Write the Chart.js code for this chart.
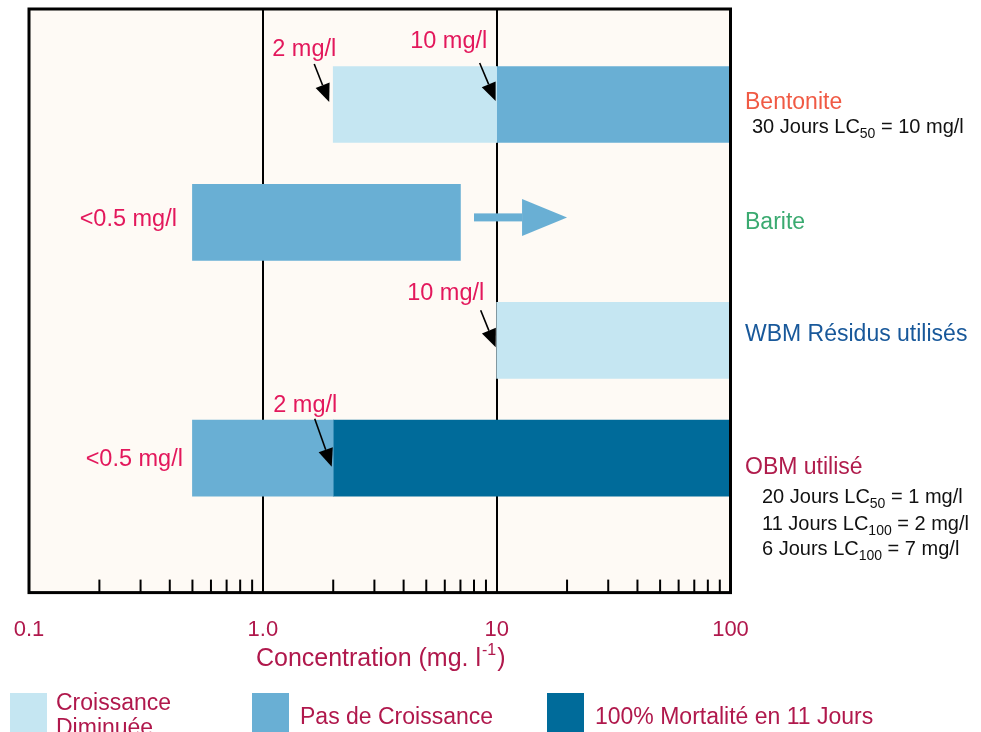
<!DOCTYPE html>
<html>
<head>
<meta charset="utf-8">
<script src="https://cdn.jsdelivr.net/npm/chart.js@4/dist/chart.umd.min.js"></script>
<style>
  html, body { margin: 0; padding: 0; background: #fff; }
  #wrap { width: 981px; height: 732px; position: relative; }
</style>
</head>
<body>
<div id="wrap"><canvas id="chart" width="981" height="732"></canvas></div>
<script>
// rows, top to bottom
const rows = ['Bentonite', 'Barite', 'WBM Résidus utilisés', 'OBM utilisé'];
const rowIndex = [1, 2, 3, 4];

// floating bars [from, to] in mg/l, one per row (null = no bar)
const reducedGrowth = [[2, 10], null, [10, 100], null];
const noGrowth      = [[10, 100], [0.5, 7], null, [0.5, 2]];
const mortality     = [null, null, null, [2, 100]];

const seriesNames = ['Croissance Diminuée', 'Pas de Croissance', '100% Mortalité en 11 Jours'];

// barite: no growth continues past 7 mg/l
const bariteArrow = [8, 20];

// callouts with arrows
const calloutRows   = [1, 1, 3, 4];
const calloutValues = [2, 10, 10, 2];
const calloutTexts  = ['2 mg/l', '10 mg/l', '10 mg/l', '2 mg/l'];

// lower limit labels
const lowRows   = [2, 4];
const lowValues = [0.5, 0.5];
const lowTexts  = ['<0.5 mg/l', '<0.5 mg/l'];

// LC notes: [text, subscript, rest]
const lcNotes = [
  [['30 Jours LC', '50', ' = 10 mg/l']],
  [],
  [],
  [['20 Jours LC', '50', ' = 1 mg/l'], ['11 Jours LC', '100', ' = 2 mg/l'], ['6 Jours LC', '100', ' = 7 mg/l']]
];

const tickValues = [0.1, 1, 10, 100];
const tickLabels = ['0.1', '1.0', '10', '100'];

// ---- styles
const FONT = "'Liberation Sans', Arial, Helvetica, sans-serif";
const barColors = ['#c5e6f2', '#69afd4', '#006b9a'];
const rowColors = ['#f05a44', '#3aaa70', '#18589a', '#b01c4c'];
const axisRed = '#b0184c';
const noteRed = '#e3185c';

// callout geometry relative to (x(value), row centre): tip, tail, label centre/baseline
const calloutGeom = [
  { tip: [-4, -2.5], tail: [-19, -40.5], label: [-29, -48.5] },
  { tip: [-1, -3.5], tail: [-17, -41.5], label: [-48, -56.5] },
  { tip: [-1, 7], tail: [-16, -30], label: [-51, -40] },
  { tip: [-1.5, 8.5], tail: [-18.5, -39.5], label: [-28, -46.5] }
];
const lowGeom = [[-15.5, 3.8], [-9.5, 7.4]];
const rowLabelDy = [4.5, 7, 0.5, 15.5];
const noteDy = [[28.5], [], [], [44.5, 71.5, 96.5]];
const noteX = [752, 762];

const toPoints = arr => arr.map((r, i) => r ? { x: r, y: rowIndex[i] } : null).filter(Boolean);

function textWithSub(ctx, parts, x, y, size) {
  ctx.textAlign = 'left';
  ctx.font = size + 'px ' + FONT;
  ctx.fillText(parts[0], x, y);
  x += ctx.measureText(parts[0]).width;
  ctx.font = Math.round(size * 0.72) + 'px ' + FONT;
  ctx.fillText(parts[1], x, y + 5);
  x += ctx.measureText(parts[1]).width;
  ctx.font = size + 'px ' + FONT;
  ctx.fillText(parts[2], x, y);
}

function arrowLine(ctx, x1, y1, x2, y2) {
  const a = Math.atan2(y2 - y1, x2 - x1);
  const len = 18, hw = 7.5;
  const bx = x2 - len * Math.cos(a), by = y2 - len * Math.sin(a);
  ctx.strokeStyle = '#000';
  ctx.lineWidth = 1.6;
  ctx.beginPath();
  ctx.moveTo(x1, y1);
  ctx.lineTo(bx, by);
  ctx.stroke();
  ctx.fillStyle = '#000';
  ctx.beginPath();
  ctx.moveTo(x2, y2);
  ctx.lineTo(bx + hw * Math.sin(a), by - hw * Math.cos(a));
  ctx.lineTo(bx - hw * Math.sin(a), by + hw * Math.cos(a));
  ctx.closePath();
  ctx.fill();
}

const decorations = {
  id: 'decorations',
  beforeDraw(chart) {
    const { ctx, chartArea: a } = chart;
    ctx.save();
    ctx.fillStyle = '#ffffff';
    ctx.fillRect(0, 0, chart.width, chart.height);
    ctx.fillStyle = '#fefaf5';
    ctx.fillRect(a.left, a.top, a.right - a.left, a.bottom - a.top);
    ctx.restore();
  },
  afterDatasetsDraw(chart) {
    const { ctx } = chart;
    const x = chart.scales.x, y = chart.scales.y;
    // barite arrow
    const cy = y.getPixelForValue(2) - 5;
    const x1 = x.getPixelForValue(bariteArrow[0]);
    const tip = x.getPixelForValue(bariteArrow[1]);
    const base = tip - 45;
    ctx.save();
    ctx.fillStyle = barColors[1];
    ctx.fillRect(x1, cy - 4, base - x1, 8);
    ctx.beginPath();
    ctx.moveTo(base, cy - 18.5);
    ctx.lineTo(tip, cy);
    ctx.lineTo(base, cy + 18.5);
    ctx.closePath();
    ctx.fill();
    ctx.restore();
  },
  afterDraw(chart) {
    const { ctx, chartArea: a } = chart;
    const x = chart.scales.x, y = chart.scales.y;
    ctx.save();

    // minor ticks inside the frame
    ctx.strokeStyle = '#000';
    ctx.lineWidth = 2;
    x.ticks.forEach(t => {
      if (tickValues.some(v => Math.abs(v - t.value) < 1e-9)) return;
      const px = x.getPixelForValue(t.value);
      ctx.beginPath();
      ctx.moveTo(px, a.bottom);
      ctx.lineTo(px, a.bottom - 13);
      ctx.stroke();
    });

    // frame
    ctx.lineWidth = 3;
    ctx.strokeRect(a.left, a.top, a.right - a.left, a.bottom - a.top);

    // callouts
    ctx.textBaseline = 'alphabetic';
    calloutValues.forEach((v, i) => {
      const px = x.getPixelForValue(v), py = y.getPixelForValue(calloutRows[i]);
      const g = calloutGeom[i];
      arrowLine(ctx, px + g.tail[0], py + g.tail[1], px + g.tip[0], py + g.tip[1]);
      ctx.fillStyle = noteRed;
      ctx.font = '23.5px ' + FONT;
      ctx.textAlign = 'center';
      ctx.fillText(calloutTexts[i], px + g.label[0], py + g.label[1]);
    });
    lowValues.forEach((v, i) => {
      const px = x.getPixelForValue(v), py = y.getPixelForValue(lowRows[i]);
      ctx.fillStyle = noteRed;
      ctx.font = '23.5px ' + FONT;
      ctx.textAlign = 'right';
      ctx.fillText(lowTexts[i], px + lowGeom[i][0], py + lowGeom[i][1]);
    });

    // row names and LC notes on the right
    rows.forEach((r, i) => {
      const py = y.getPixelForValue(rowIndex[i]);
      ctx.fillStyle = rowColors[i];
      ctx.font = '23px ' + FONT;
      ctx.textAlign = 'left';
      ctx.fillText(r, 745, py + rowLabelDy[i]);
      ctx.fillStyle = '#111';
      lcNotes[i].forEach((n, j) => {
        textWithSub(ctx, n, i === 0 ? noteX[0] : noteX[1], py + noteDy[i][j], 20);
      });
    });

    // axis title with superscript
    ctx.fillStyle = axisRed;
    const t1 = 'Concentration (mg. l', sup = '-1', t2 = ')';
    ctx.font = '25px ' + FONT;
    const w1 = ctx.measureText(t1).width, w3 = ctx.measureText(t2).width;
    ctx.font = '16px ' + FONT;
    const w2 = ctx.measureText(sup).width;
    let tx = (a.left + a.right) / 2 - (w1 + w2 + w3) / 2;
    const ty = 666;
    ctx.textAlign = 'left';
    ctx.font = '25px ' + FONT;
    ctx.fillText(t1, tx, ty);
    ctx.font = '16px ' + FONT;
    ctx.fillText(sup, tx + w1 + 1, ty - 11);
    ctx.font = '25px ' + FONT;
    ctx.fillText(t2, tx + w1 + w2 + 2, ty);

    // legend
    const lx = [10, 252, 547];
    chart.data.datasets.forEach((ds, i) => {
      ctx.fillStyle = ds.backgroundColor;
      ctx.fillRect(lx[i], 693, 37, 40);
      ctx.fillStyle = axisRed;
      ctx.font = '23px ' + FONT;
      ctx.textAlign = 'left';
      if (i === 0) {
        const parts = ds.label.split(' ');
        ctx.fillText(parts[0], lx[i] + 46, 710);
        ctx.fillText(parts[1], lx[i] + 46, 735);
      } else {
        ctx.fillText(ds.label, lx[i] + 48, 724);
      }
    });
    ctx.restore();
  }
};

const series = [reducedGrowth, noGrowth, mortality];

new Chart(document.getElementById('chart'), {
  type: 'bar',
  data: {
    datasets: series.map((s, i) => ({
      label: seriesNames[i],
      data: toPoints(s),
      backgroundColor: barColors[i],
      borderWidth: 0,
      grouped: false,
      barThickness: 76
    }))
  },
  options: {
    indexAxis: 'y',
    responsive: false,
    animation: false,
    devicePixelRatio: 1,
    layout: { padding: { left: 29, right: 250.5, top: 9, bottom: 65 } },
    plugins: { legend: { display: false }, tooltip: { enabled: false } },
    scales: {
      x: {
        type: 'logarithmic',
        min: 0.1,
        max: 100,
        z: 1,
        afterBuildTicks: s => {
          const t = [];
          for (let d = 0.1; d < 99; d *= 10) {
            for (let k = 1; k < 10; k++) t.push({ value: +(k * d).toPrecision(3) });
          }
          t.push({ value: 100 });
          s.ticks = t;
        },
        afterFit: s => { s.paddingLeft = 0; s.paddingRight = 0; },
        border: { display: false },
        grid: {
          drawTicks: false,
          lineWidth: 2,
          color: c => (c.tick && (c.tick.value === 1 || c.tick.value === 10)) ? '#000' : 'rgba(0,0,0,0)'
        },
        ticks: {
          autoSkip: false,
          maxRotation: 0,
          padding: 24,
          color: axisRed,
          font: { family: FONT, size: 22 },
          callback: v => {
            const i = tickValues.findIndex(tv => Math.abs(tv - v) < 1e-9);
            return i >= 0 ? tickLabels[i] : '';
          }
        }
      },
      y: {
        type: 'linear',
        display: false,
        reverse: true,
        offset: false,
        grace: 0,
        min: 0.19,
        max: 5.14
      }
    }
  },
  plugins: [decorations]
});
</script>
</body>
</html>
